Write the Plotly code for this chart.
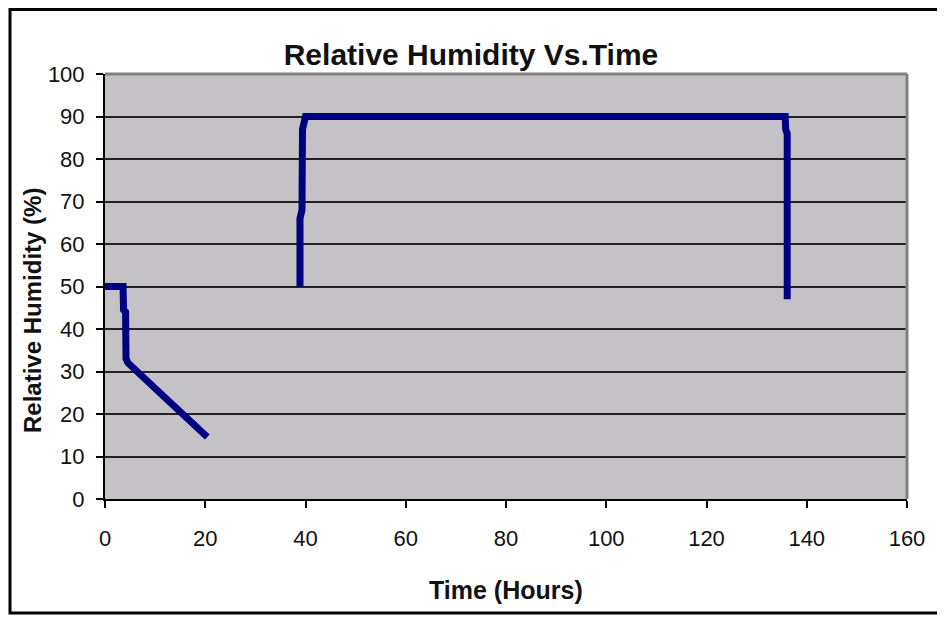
import plotly.graph_objects as go

# Data
time_drying = [0, 3.6, 3.7, 4.1, 4.2, 4.6, 10.4, 20.4]
rh_drying = [50, 50, 44.5, 44, 33, 32, 25.6, 14.6]

time_humid = [38.9, 38.9, 39.3, 39.4, 40.0, 135.7, 135.8, 136.1, 136.1]
rh_humid = [50, 66, 68, 87, 90, 90, 87, 86, 47]

x_ticks = [0, 20, 40, 60, 80, 100, 120, 140, 160]
y_ticks = [0, 10, 20, 30, 40, 50, 60, 70, 80, 90, 100]

# The page body has an 8px margin; work in page pixels and convert
OFF = 8
W, H = 945 - OFF, 617 - OFF
PL, PR, PT, PB = 105, 907, 74, 499          # plot area in page pixels
L, R, T, B = PL - OFF, (W + OFF) - PR, PT - OFF, (H + OFF) - PB
pw, ph = PR - PL, PB - PT

def px(xpage):
    return (xpage - PL) / pw

def py(ypage):
    return (PB - ypage) / ph

line_style = dict(color="#000080", width=7)

fig = go.Figure()
fig.add_trace(go.Scatter(x=time_drying, y=rh_drying, mode="lines", line=line_style,
                         showlegend=False, cliponaxis=False))
fig.add_trace(go.Scatter(x=time_humid, y=rh_humid, mode="lines", line=line_style,
                         showlegend=False, cliponaxis=False))

base_font = "Liberation Sans, Arial, sans-serif"

fig.update_layout(
    width=W, height=H,
    margin=dict(l=L, r=R, t=T, b=B),
    paper_bgcolor="white",
    plot_bgcolor="#C4C2C6",
    font=dict(family=base_font, color="#111111"),
    title=dict(text="<b>Relative Humidity Vs.Time</b>", x=(471 - OFF) / W, xref="container",
               xanchor="center", y=1 - (54 - OFF) / H, yanchor="middle",
               font=dict(size=30, family=base_font, color="#111111")),
    xaxis=dict(range=[0, 160], tickvals=x_ticks, showgrid=False, zeroline=False,
               showline=True, linecolor="black", linewidth=2,
               ticks="outside", ticklen=7, tickcolor="black", tickwidth=1.5,
               tickfont=dict(size=22), ticklabelstandoff=12),
    yaxis=dict(range=[0, 100], tickvals=y_ticks, showgrid=True, gridcolor="#222222",
               gridwidth=1.5, zeroline=False,
               showline=True, linecolor="black", linewidth=2,
               ticks="outside", ticklen=7, tickcolor="black", tickwidth=1.5,
               tickfont=dict(size=22), ticklabelstandoff=7),
    annotations=[
        dict(text="<b>Relative Humidity (%)</b>", textangle=-90,
             x=px(32), y=py(311), xref="paper", yref="paper",
             showarrow=False, font=dict(size=24, color="#111111"),
             xanchor="center", yanchor="middle"),
        dict(text="<b>Time (Hours)</b>",
             x=px(506), y=py(590), xref="paper", yref="paper",
             showarrow=False, font=dict(size=25, color="#111111"),
             xanchor="center", yanchor="middle"),
    ],
    shapes=[
        dict(type="rect", xref="paper", yref="paper",
             x0=px(10), x1=px(939), y0=py(613), y1=py(OFF + 1.5),
             line=dict(color="black", width=3), layer="below"),
        dict(type="line", xref="paper", yref="paper", x0=0, x1=1, y0=1, y1=1,
             line=dict(color="#808080", width=3), layer="above"),
        dict(type="line", xref="paper", yref="paper", x0=1, x1=1, y0=0, y1=1,
             line=dict(color="#808080", width=3), layer="above"),
    ],
)

fig.write_html("out.html")
